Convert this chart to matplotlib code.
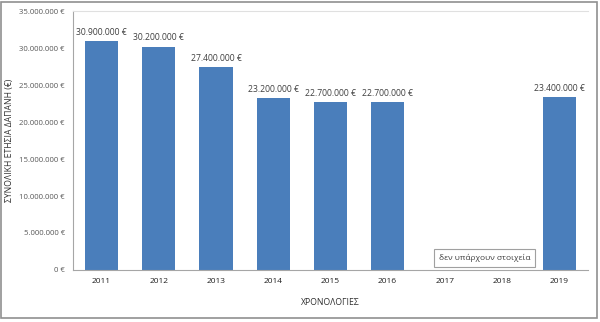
"""Annual total expenditure per year, bar chart with missing years."""

import matplotlib.pyplot as plt
import matplotlib.ticker as mticker
from matplotlib.patches import Rectangle

YEARS = ["2011", "2012", "2013", "2014", "2015", "2016", "2017", "2018", "2019"]
SPEND = [30900000, 30200000, 27400000, 23200000, 22700000, 22700000, None, None, 23400000]
Y_TICKS = [0, 5000000, 10000000, 15000000, 20000000, 25000000, 30000000, 35000000]

BLUE = "#4A7EBB"
TEXT = "#404040"
AXIS = "#A6A6A6"

plt.rcParams.update({
    "font.family": ["Open Sans", "DejaVu Sans"],
    "font.size": 6,
})


def euro(v, _=None):
    return f"{v:,.0f} €".replace(",", ".")


fig = plt.figure(figsize=(6.0, 3.22), dpi=100)
ax = fig.add_axes([0.1217, 0.1615, 0.858, 0.8043])

xs = list(range(len(YEARS)))
for x, v in zip(xs, SPEND):
    if v is None:
        continue
    ax.bar(x, v, width=0.58, color=BLUE)
    ax.text(x, v + 550000, euro(v), ha="center", va="bottom", fontsize=6.2, color=TEXT)

ax.set_xlim(-0.5, len(YEARS) - 0.5)
ax.set_ylim(0, 35000000)
ax.set_yticks(Y_TICKS)
ax.yaxis.set_major_formatter(mticker.FuncFormatter(euro))
ax.set_xticks(xs)
ax.set_xticklabels(YEARS)
ax.tick_params(axis="y", length=0, pad=6, labelsize=5.6, labelcolor="#595959")
ax.tick_params(axis="x", length=0, pad=6, labelsize=6, labelcolor="#202020")

ax.spines["right"].set_visible(False)
ax.spines["top"].set_color("#E0E0E0")
ax.spines["left"].set_color(AXIS)
ax.spines["bottom"].set_color(AXIS)

ax.set_ylabel("ΣΥΝΟΛΙΚΗ ΕΤΗΣΙΑ ΔΑΠΑΝΗ (€)", fontsize=6.2, color="#303030", labelpad=4)
ax.set_xlabel("ΧΡΟΝΟΛΟΓΙΕΣ", fontsize=6.2, color="#303030", labelpad=9)

ax.text(6.69, 1650000, "δεν υπάρχουν στοιχεία", ha="center", va="center",
        fontsize=6, color=TEXT,
        bbox=dict(boxstyle="square,pad=0.6", facecolor="white",
                  edgecolor="#A0A0A0", linewidth=0.8))

fig.patches.append(Rectangle((0.002, 0.012), 0.993, 0.983, transform=fig.transFigure,
                             fill=False, edgecolor="#909090", linewidth=1.2))

fig.savefig("out.png", dpi=100)
